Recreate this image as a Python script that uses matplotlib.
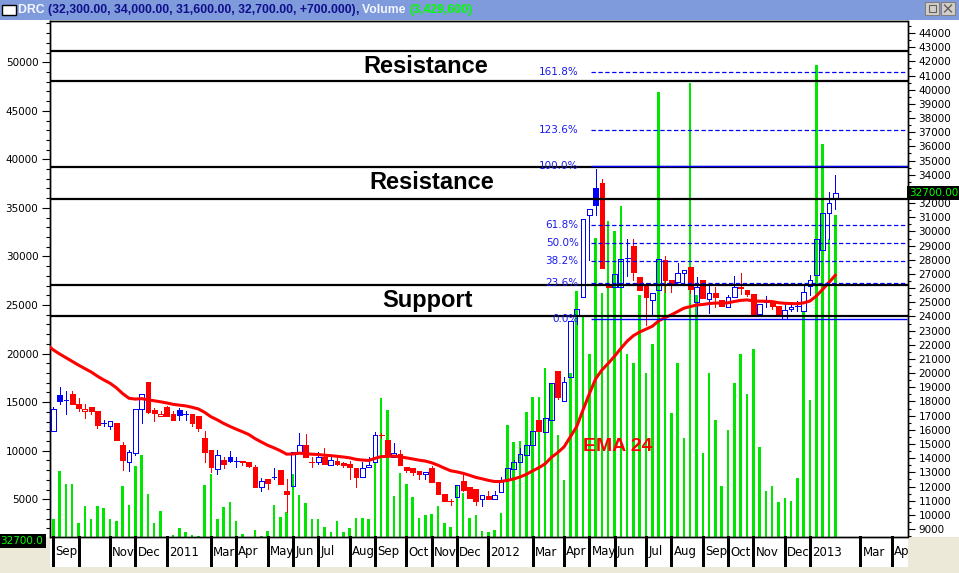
import numpy as np
import matplotlib
matplotlib.use("Agg")
import matplotlib.pyplot as plt
from matplotlib.patches import Rectangle
import matplotlib.transforms as mtransforms

# ---------------- data (weekly bars, DRC) ----------------
opens = [15950, 18450, 18100, 18550, 17800, 17350, 17600, 17350, 16500, 16300,
         16500, 14900, 13700, 14400, 17500, 19350, 17400, 17000, 17600, 17150,
         17400, 17100, 17100, 16950, 15400, 14550, 13250, 13850, 14050, 13800,
         13800, 13700, 13350, 11950, 12500, 12650, 13150, 11700, 12050, 14450,
         14950, 13750, 13700, 14050, 13550, 13800, 13650, 13600, 13300, 12650,
         13350, 13700, 15620, 15250, 14050, 14300, 13350, 13300, 13100, 12900,
         13300, 12300, 11450, 11000, 11250, 12400, 11950, 11850, 11150, 11300,
         11100, 11600, 12500, 13250, 13700, 14250, 14950, 16700, 15850, 16700,
         20150, 18050, 19700, 24050, 25350, 31150, 33050, 33450, 26150, 26100,
         26100, 28150, 28950, 26750, 26300, 25150, 25900, 28000, 26550, 26400,
         27050, 27500, 25000, 26550, 25200, 25650, 25150, 24700, 25400, 26050,
         25900, 25600, 24200, 25050, 24950, 24750, 23800, 24500, 24750, 24400,
         26150, 26950, 28700, 31300, 32300]
highs = [17600, 19050, 18750, 18750, 18250, 17850, 17600, 17350, 16700, 16600,
         16500, 15150, 14600, 17500, 18550, 19350, 17550, 17350, 17650, 17300,
         17550, 17300, 17100, 16950, 15900, 14550, 14550, 14050, 14500, 14050,
         13800, 13700, 13500, 12600, 12500, 13300, 13150, 12500, 14450, 15800,
         15700, 14100, 14450, 14700, 14200, 14050, 13750, 13800, 13300, 13700,
         14050, 15850, 15750, 15250, 15100, 14550, 13350, 13300, 13100, 13050,
         13450, 12300, 11450, 11150, 12100, 12850, 11950, 11850, 11400, 11650,
         11650, 12650, 13300, 13850, 14750, 14950, 15950, 16700, 16800, 19300,
         20150, 19700, 23700, 24500, 30850, 31550, 34400, 33700, 26150, 27000,
         28050, 29450, 29450, 26750, 26350, 25650, 28050, 28250, 26550, 27750,
         27300, 27500, 26800, 26550, 26250, 26050, 25150, 25500, 26850, 27050,
         25900, 25600, 24900, 25450, 25000, 24750, 25050, 24950, 25100, 26150,
         26950, 29450, 31300, 32750, 34000]
lows = [15900, 17850, 17150, 17800, 17350, 16850, 17150, 16150, 16300, 16050,
        15250, 13150, 13100, 14250, 16500, 17200, 16600, 17000, 16950, 16700,
        16700, 16700, 16300, 15950, 13750, 13050, 12850, 13300, 13750, 13350,
        13500, 13400, 12000, 11650, 11850, 12500, 12200, 10200, 12050, 14450,
        14050, 13350, 13600, 13600, 13550, 13500, 13350, 12550, 12000, 12650,
        13350, 13700, 15450, 14300, 14050, 13500, 13050, 12800, 12550, 12550,
        12300, 11500, 11000, 10700, 11250, 11700, 11200, 10700, 10600, 11150,
        11100, 11600, 12500, 13250, 13700, 14250, 14950, 15900, 15850, 16700,
        18150, 18050, 19700, 23500, 25350, 28000, 31150, 27400, 26050, 26100,
        26100, 26850, 26600, 25900, 23400, 24100, 25900, 25750, 25750, 26400,
        26450, 25650, 24000, 25300, 24250, 24700, 24750, 24700, 25400, 25600,
        25450, 24100, 24200, 24700, 24550, 24050, 23800, 24400, 24400, 24400,
        25500, 26950, 28700, 29450, 31600]
closes = [17500, 18050, 18100, 17800, 17550, 17500, 17350, 16350, 16500, 16600,
          15250, 13850, 14450, 17500, 18550, 17250, 17200, 17150, 16950, 16700,
          17050, 17100, 16450, 16150, 14450, 13350, 14200, 13600, 13800, 13800,
          13750, 13450, 12000, 12400, 12250, 12650, 12200, 11500, 14450, 14950,
          14050, 13750, 14050, 13600, 13850, 13600, 13500, 13350, 12700, 13300,
          13500, 15650, 15600, 14300, 14400, 13500, 13150, 13050, 12900, 13050,
          12300, 11500, 11000, 10950, 12100, 11750, 11200, 10950, 11400, 11150,
          11400, 12400, 13300, 13700, 14300, 14950, 15950, 15900, 16800, 19300,
          18300, 19400, 23700, 24500, 30850, 31550, 31850, 27400, 26050, 27000,
          28050, 28150, 27150, 25900, 25400, 25650, 28050, 26550, 26350, 27050,
          27300, 25950, 26100, 25300, 25650, 25400, 24750, 25350, 26100, 26000,
          25600, 24200, 24900, 25050, 24750, 24050, 24450, 24700, 24750, 25700,
          26600, 29450, 31300, 32000, 32700]
# volume, in hundreds of shares
volumes = [2970, 7900, 6600, 6600, 2550, 4300, 2970, 4300, 4100, 2970,
           2760, 6370, 4400, 8430, 9570, 5550, 2550, 3800, 1150, 1320,
           2040, 1630, 1320, 1220, 6470, 7600, 2970, 4200, 4720, 2760,
           1420, 1150, 1830, 1220, 1730, 4400, 3180, 3690, 7600, 5440,
           4640, 2970, 2970, 2180, 1660, 2760, 1660, 2070, 3100, 3100,
           2970, 8880, 15440, 14200, 5340, 7680, 6580, 5270, 3040, 3380,
           3450, 4310, 2530, 2180, 6470, 5620, 3100, 3380, 1730, 1660,
           1830, 3560, 12660, 10880, 11000, 14000, 15500, 15500, 18500, 17000,
           11600, 7000, 18000, 26400, 24000, 20000, 31900, 26200, 33700, 32600,
           35200, 20000, 19000, 26000, 18000, 21000, 46900, 28600, 13900, 19000,
           11350, 47900, 26000, 9800, 18000, 13200, 6400, 12150, 17000, 20000,
           15850, 20500, 10400, 5850, 6350, 4700, 5150, 4800, 7200, 24300,
           15200, 49700, 41600, 31800, 34296]

ema_period = 24
ema_seed = 22000

level_prices = [42700, 40600, 34550, 32300, 26250, 24000]
fib_low, fib_high = 23800, 34600
fib_ratios = [0.0, 0.236, 0.382, 0.5, 0.618, 1.0, 1.236, 1.618]

month_idx = [0, 4, 9, 13, 18, 25, 29, 34, 38, 42, 47, 51, 56, 60, 64, 69, 76,
             81, 85, 89, 94, 98, 103, 107, 111, 116, 120, 128, 133]
month_lbl = ['Sep', '', 'Nov', 'Dec', '2011', 'Mar', 'Apr', 'May', 'Jun', 'Jul',
             'Aug', 'Sep', 'Oct', 'Nov', 'Dec', '2012', 'Mar', 'Apr', 'May', 'Jun',
             'Jul', 'Aug', 'Sep', 'Oct', 'Nov', 'Dec', '2013', 'Mar', 'Apr']

# ---------------- figure ----------------
W, H = 959, 573
fig = plt.figure(figsize=(W / 100, H / 100), dpi=100)
fig.patch.set_facecolor('white')

def fx(px):
    return px / W

def fy(py):
    return 1 - py / H

L, R, T, B = 49.5, 907.5, 20.5, 537.0
ax = fig.add_axes([fx(L), fy(B), (R - L) / W, (B - T) / H])
ax2 = ax.twinx()
ax.set_zorder(1)
ax2.set_zorder(2)
ax2.patch.set_visible(False)

n = len(closes)
x = np.arange(n)
x0 = (L - 53.3) / 6.306
x1 = (R - 53.3) / 6.306
ax.set_xlim(x0, x1)
ax2.set_xlim(x0, x1)
ax.set_ylim(1110, 54300)
ax2.set_ylim(8438, 44882)

GREEN = '#00e600'
BLUE = '#0000ff'
RED = '#ff0000'

# volume
ax.bar(x, volumes, width=0.4, color=GREEN, bottom=0, linewidth=0, antialiased=False)

# candles: hollow when close > open, blue when close >= previous close
bw = 0.75
LW = 0.7
prev = None
for i in range(n):
    o, h, l, c = opens[i], highs[i], lows[i], closes[i]
    col = BLUE if (prev is None or c >= prev) else RED
    prev = c
    if c > o:
        ax2.vlines(i, c, h, color=col, lw=LW, antialiased=False, zorder=3)
        ax2.vlines(i, l, o, color=col, lw=LW, antialiased=False, zorder=3)
        ax2.add_patch(Rectangle((i - bw / 2, o), bw, c - o, facecolor='none',
                                edgecolor=col, lw=LW, antialiased=False, zorder=3))
    elif c < o:
        ax2.vlines(i, l, h, color=col, lw=LW, antialiased=False, zorder=3)
        ax2.add_patch(Rectangle((i - bw / 2, c), bw, o - c, facecolor=col,
                                edgecolor=col, lw=LW, antialiased=False, zorder=3))
    else:
        ax2.vlines(i, l, h, color=col, lw=LW, antialiased=False, zorder=3)
        ax2.hlines(c, i - bw / 2, i + bw / 2, color=col, lw=LW,
                   antialiased=False, zorder=3)

# EMA 24 of the closes
alpha = 2.0 / (ema_period + 1)
ema = []
e = ema_seed
for c in closes:
    e = e + alpha * (c - e)
    ema.append(e)
ax2.plot(np.r_[-1, x], [ema_seed] + ema, color=RED, lw=2.2, zorder=4,
         solid_joinstyle='miter')

# support / resistance levels
for p in level_prices:
    ax2.axhline(p, color='black', lw=1.6, zorder=5)

# fibonacci retracement / extension
fib_start = 85.3
for r in fib_ratios:
    p = fib_low + r * (fib_high - fib_low)
    if r in (0.0, 1.0):
        ax2.hlines(p, fib_start, x1, color=BLUE, lw=1.0, zorder=6)
    else:
        ax2.hlines(p, fib_start, x1, color=BLUE, lw=0.9, linestyles=(0, (3.5, 2.0)), zorder=6)
    ax2.text(83.3, p, f"{r * 100:.1f}%", color='#1a1aee', fontsize=7.5,
             ha='right', va='center', zorder=7, family='DejaVu Sans')

# annotations
ann = dict(fontsize=17, fontweight='bold', family='Liberation Sans', color='black',
           ha='center', va='center', zorder=8)
ax2.text(59.0, (level_prices[0] + level_prices[1]) / 2, 'Resistance', **ann)
ax2.text(60.0, (level_prices[2] + level_prices[3]) / 2, 'Resistance', **ann)
ax2.text(59.3, (level_prices[4] + level_prices[5]) / 2, 'Support', **ann)
ax2.text(84.0, 14790, 'EMA 24', color=RED, fontsize=14, fontweight='bold',
         family='Liberation Sans', ha='left', va='center', zorder=8)

# axes styling
for a in (ax, ax2):
    for s in a.spines.values():
        s.set_color('black')
        s.set_linewidth(1.0)
    a.set_xticks([])

ax.yaxis.tick_left()
ax.set_yticks(np.arange(5000, 50001, 5000))
ax.set_yticks(np.arange(2000, 54001, 1000), minor=True)
ax.tick_params(axis='y', which='major', direction='out', length=6, width=0.8,
               labelsize=7.5, pad=2)
ax.tick_params(axis='y', which='minor', direction='out', length=3, width=0.8)

price_ticks = np.arange(9000, 44001, 1000)
ax2.set_yticks(price_ticks)
ax2.set_yticklabels(['' if v == 33000 else str(v) for v in price_ticks])
ax2.set_yticks(np.arange(8500, 44801, 500), minor=True)
ax2.tick_params(axis='y', which='major', direction='out', length=5, width=0.8,
                labelsize=7.5, pad=3)
ax2.tick_params(axis='y', which='minor', direction='out', length=2.5, width=0.8)
for lab in ax.get_yticklabels() + ax2.get_yticklabels():
    lab.set_family('DejaVu Sans')

# month axis band
trans = mtransforms.blended_transform_factory(ax.transData, ax.transAxes)
band = 30.0 / (B - T)
clip_rect = Rectangle((fx(L), fy(567)), (R - L) / W, 30 / H, transform=fig.transFigure)
for mi, ml in zip(month_idx, month_lbl):
    ax.plot([mi, mi], [0, -band], color='black', lw=0.8, transform=trans,
            clip_on=False, antialiased=False)
    if ml:
        t = ax.text(mi + 0.35, -band / 2, ml, transform=trans, fontsize=8.5,
                    ha='left', va='center', family='DejaVu Sans', clip_on=False)
        t.set_clip_path(clip_rect)

# frame regions around the plot
def fig_rect(x_, y_, w_, h_, **kw):
    fig.patches.append(Rectangle((fx(x_), fy(y_ + h_)), w_ / W, h_ / H,
                                 transform=fig.transFigure, **kw))

BEIGE = '#ece9d8'
fig_rect(0, 567, W, 6, facecolor=BEIGE, edgecolor='none')
fig_rect(0, 537, L, 30, facecolor=BEIGE, edgecolor='none')
fig_rect(R, 537, W - R, 30, facecolor=BEIGE, edgecolor='none')

# title bar
fig_rect(0, 0, W, 19.5, facecolor='#7f9bdb', edgecolor='none')
fig_rect(2, 5, 14, 10, facecolor='white', edgecolor='black', lw=1)
fig_rect(925, 2, 14, 13, facecolor='#d4d0c8', edgecolor='#808080', lw=0.8)
fig_rect(928.5, 5, 7, 7, facecolor='none', edgecolor='#606060', lw=0.8)
fig_rect(941, 2, 14, 13, facecolor='#d4d0c8', edgecolor='#808080', lw=0.8)
fig.lines.append(plt.Line2D([fx(944.5), fx(951.5)], [fy(5), fy(12)], color='#606060',
                            lw=1.0, transform=fig.transFigure))
fig.lines.append(plt.Line2D([fx(944.5), fx(951.5)], [fy(12), fy(5)], color='#606060',
                            lw=1.0, transform=fig.transFigure))

renderer = fig.canvas.get_renderer()
pieces = [("DRC ", '#f4f6ff'),
          ("(32,300.00, 34,000.00, 31,600.00, 32,700.00, +700.000)", '#10108c'),
          (", ", '#10108c'),
          ("Volume ", '#f4f6ff'),
          ("(3,429,600)", '#00ff00')]
xpos = fx(18)
for txt, col in pieces:
    t = fig.text(xpos, fy(10), txt, color=col, fontsize=8.8, fontweight='bold',
                 family='Liberation Sans', ha='left', va='center')
    bb = t.get_window_extent(renderer=renderer)
    xpos = bb.x1 / W

# last-value boxes
fig.text(fx(934), fy(193), '32700.00', color='#00ff00', fontsize=7.5,
         family='DejaVu Sans', ha='center', va='center', zorder=10,
         bbox=dict(facecolor='black', edgecolor='none', pad=1.6))
fig.text(fx(22), fy(541), '32700.0', color='#00ff00', fontsize=7.5,
         family='DejaVu Sans', ha='center', va='center',
         bbox=dict(facecolor='black', edgecolor='none', pad=1.6))

fig.savefig('out.png', dpi=100)
